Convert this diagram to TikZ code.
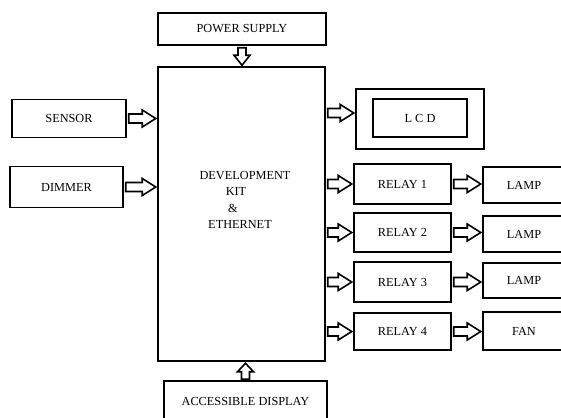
\documentclass[tikz,border=0pt]{standalone}
\usepackage{fontspec}
\setmainfont{Liberation Serif}
\usetikzlibrary{calc}
\tikzset{
  box/.style={draw, line width=1.5pt, inner sep=0pt, font=\fontsize{12.3}{14}\selectfont},
  harr/.style={line width=1.6pt, to path={let \p1=(\tikztostart), \p2=(\tikztotarget) in
    ({\x1+2pt},{\y1+4.5pt}) -- ({\x2-15pt},{\y1+4.5pt}) -- ({\x2-15pt},{\y1+8.5pt}) -- ({\x2-1.5pt},\y1)
    -- ({\x2-15pt},{\y1-8.5pt}) -- ({\x2-15pt},{\y1-4.5pt}) -- ({\x1+2pt},{\y1-4.5pt}) -- cycle}},
  darr/.style={line width=1.6pt, to path={let \p1=(\tikztostart), \p2=(\tikztotarget) in
    ({\x1-4pt},{\y1-2pt}) -- ({\x1-4pt},{\y2+11pt}) -- ({\x1-8pt},{\y2+11pt}) -- (\x1,{\y2+1pt})
    -- ({\x1+8pt},{\y2+11pt}) -- ({\x1+4pt},{\y2+11pt}) -- ({\x1+4pt},{\y1-2pt}) -- cycle}},
  uarr/.style={line width=1.6pt, to path={let \p1=(\tikztostart), \p2=(\tikztotarget) in
    ({\x1-4pt},{\y1+1pt}) -- ({\x1-4pt},{\y2-10pt}) -- ({\x1-8pt},{\y2-10pt}) -- (\x1,{\y2-1.5pt})
    -- ({\x1+8pt},{\y2-10pt}) -- ({\x1+4pt},{\y2-10pt}) -- ({\x1+4pt},{\y1+1pt}) -- cycle}},
}
\begin{document}
\begin{tikzpicture}[x=1pt,y=-1pt]
\useasboundingbox (0,0) rectangle (561,417);
\begin{scope}
\clip (0,0) rectangle (561,417);
\node[box, minimum width=168pt, minimum height=32pt] (power) at (242,29) {POWER SUPPLY\hspace{14pt}};
\node[box, minimum width=167pt, minimum height=294pt] (main) at (241.5,214) {};
\node[font=\fontsize{12.3}{16.5}\selectfont, align=center] (maintext) at (245,200)
  {DEVELOPMENT\\KIT\rule{18pt}{0pt}\\\&\rule{24pt}{0pt}\\ETHERNET\rule{10pt}{0pt}};
\node[box, minimum width=114pt, minimum height=38pt] (sensor) at (69,118.5) {SENSOR\hspace{17pt}};
\node[box, minimum width=113pt, minimum height=41pt] (dimmer) at (66.5,187) {DIMMER\hspace{12pt}};
\node[box, minimum width=128pt, minimum height=60pt] (lcdo) at (420,119) {};
\node[box, minimum width=94pt, minimum height=38pt] (lcdi) at (420,118) {L C D\hspace{6pt}};
\node[box, minimum width=97pt, minimum height=40pt] (relay1) at (402.5,184) {RELAY 1};
\node[box, minimum width=97pt, minimum height=39pt] (relay2) at (402.5,232.5) {RELAY 2};
\node[box, minimum width=97pt, minimum height=40pt] (relay3) at (402.5,282) {RELAY 3};
\node[box, minimum width=97pt, minimum height=37pt] (relay4) at (402.5,331.5) {RELAY 4};
\node[box, minimum width=82pt, minimum height=36pt] (lamp1) at (524,185) {LAMP};
\node[box, minimum width=82pt, minimum height=36pt] (lamp2) at (524,234) {LAMP};
\node[box, minimum width=82pt, minimum height=35pt] (lamp3) at (524,280.5) {LAMP};
\node[box, minimum width=82pt, minimum height=38pt] (fan) at (524,331) {FAN};
\node[box, minimum width=163pt, minimum height=40pt] (acc) at (245.5,401) {ACCESSIBLE DISPLAY\hspace{6pt}};
\end{scope}
\draw[darr] (power.south) to (main.north);
\draw[uarr] (acc.north) to (main.south);
\draw[harr] (sensor.east) to (sensor.east -| main.west);
\draw[harr] (dimmer.east) to (dimmer.east -| main.west);
\draw[harr] ($(lcdo.west -| main.east)+(0,-6)$) to (lcdo.west);
\draw[harr] (relay1.west -| main.east) to (relay1.west);
\draw[harr] (relay2.west -| main.east) to (relay2.west);
\draw[harr] (relay3.west -| main.east) to (relay3.west);
\draw[harr] (relay4.west -| main.east) to (relay4.west);
\draw[harr] (relay1.east) to (relay1.east -| lamp1.west);
\draw[harr] (relay2.east) to (relay2.east -| lamp2.west);
\draw[harr] (relay3.east) to (relay3.east -| lamp3.west);
\draw[harr] (relay4.east) to (relay4.east -| fan.west);
\end{tikzpicture}
\end{document}
